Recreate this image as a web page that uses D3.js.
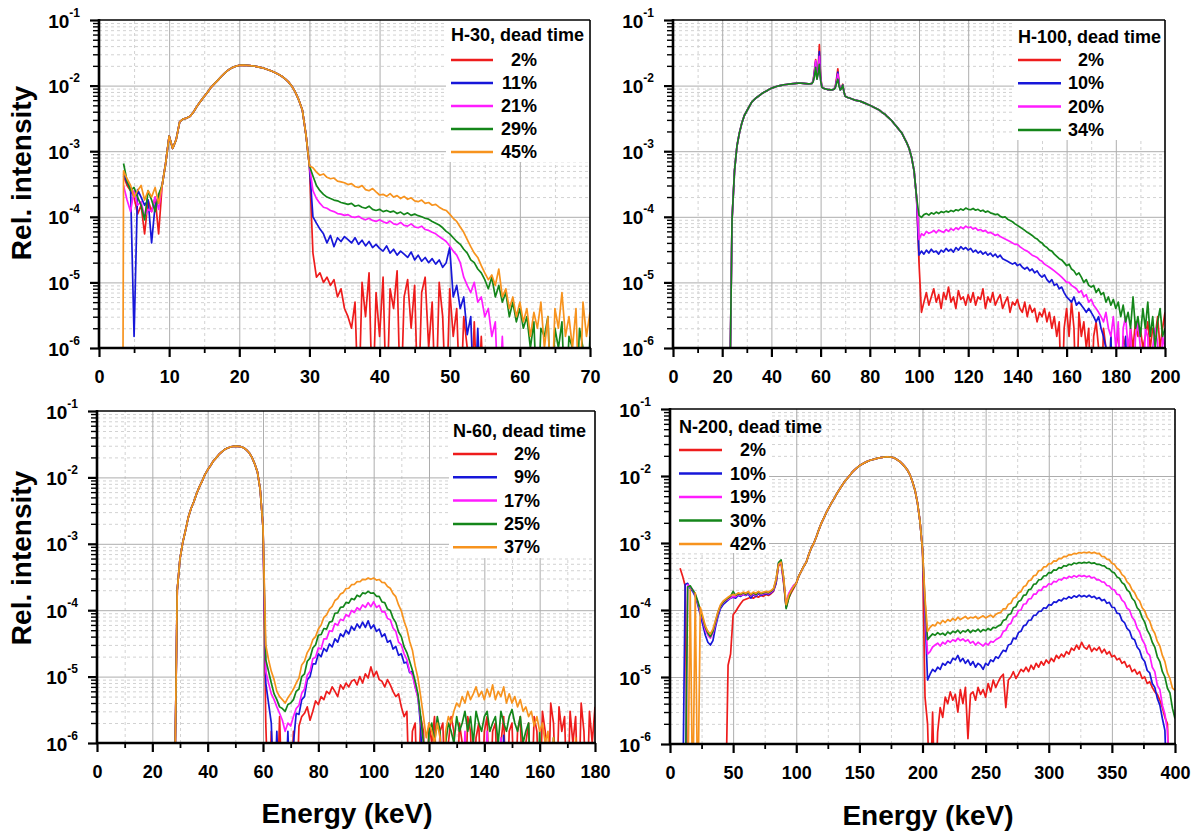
<!DOCTYPE html>
<html>
<head>
<meta charset="utf-8">
<script src="https://cdn.jsdelivr.net/npm/d3@7"></script>
<style>
  body { margin: 0; background: #fff; }
  svg { display: block; font-family: "Liberation Sans", Arial, sans-serif; font-weight: bold; }
</style>
</head>
<body>
<div id="chart"></div>
<script>
// relative intensities are written in units of 1e-6 (0 = below the axis, null = no data)

// ---------- H-30 ----------
const h30Labels = ["2%", "11%", "21%", "29%", "45%"]
const h30LowE = [3.4, 3.5, 4, 4.5, 5, 5.5, 6, 6.5, 7, 7.5, 8, 8.5]
const h30LowRed = [null, 420, 300, 250, 200, 110, 150, 55, 180, 120, 200, 55]
const h30LowBlue = [null, 450, 330, 280, 1.5, 260, 200, 150, 180, 40, 150, 200]
const h30LowMagenta = [null, 300, 180, 120, 250, 150, 170, 100, 130, 120, 200, 130]
const h30LowGreen = [null, 650, 350, 250, 280, 200, 150, 90, 250, 180, 120, 220]
const h30LowOrange = [0, 500, 380, 300, 200, 250, 300, 180, 250, 200, 280, 160]
// 9 .. 30 keV, step 0.5 (same for every dead time)
const h30Main = [
  300, 650, 1700, 1100, 1500, 2800, 3100, 3200, 3400, 4000,
  4900, 5800, 6800, 8000, 9500, 10800, 12200, 14000, 15800, 17500,
  18800, 19700, 20300, 20500, 20400, 20200, 19900, 19500, 19000, 18400,
  17600, 16800, 16000, 15000, 14000, 12800, 11400, 9800, 7900, 6000,
  4200, 1800, 600]
// 30.5 .. 70 keV, step 0.5
const h30TailRed = [
  28, 12, 14, 10, 12, 9, 11, 6, 8, 4,
  3, 2, 5, 0, 10, 3, 14, 0, 7, 1.5,
  12, 0, 8, 4, 15, 0, 6, 11, 2, 9,
  0, 7, 12, 1, 5, 0, 10, 3, 0, 8,
  1.5, 4, 0, 3, 1, 0, 2.5, 0, 1.5, 0,
  0, 1, 0, 0, 0, 0, 0, 0, 0, 0,
  0, 0, 0, 0, 0, 0, 0, 0, 0, 0,
  0, 0, 0, 0, 0, 0, 0, 0, 0, 0]
const h30TailBlue = [
  100, 80, 65, 55, 40, 52, 35, 48, 42, 50,
  45, 40, 48, 38, 44, 36, 42, 34, 38, 33,
  30, 36, 28, 32, 26, 30, 27, 24, 29, 22,
  26, 21, 24, 20, 23, 19, 22, 17, 20, 34,
  6, 9, 4, 6, 1.6, 3, 0, 2, 0, 0,
  1, 0, 0, 0, 0, 0, 0, 0, 0, 0,
  0, 0, 0, 0, 0, 0, 0, 0, 0, 0,
  0, 0, 0, 0, 0, 0, 0, 0, 0, 0]
const h30TailMagenta = [
  250, 190, 160, 140, 135, 125, 120, 112, 110, 105,
  108, 100, 98, 102, 94, 90, 95, 88, 85, 90,
  84, 80, 86, 78, 76, 82, 74, 72, 78, 70,
  68, 72, 64, 62, 58, 55, 50, 46, 42, 36,
  30, 26, 20, 12, 9, 7, 10, 5, 6, 3,
  4, 1.5, 2.5, 0, 1.5, 0, 1, 0, 0, 0,
  0, 0, 0, 0, 0, 0, 0, 0, 0, 0,
  0, 0, 0, 0, 0, 0, 0, 0, 0, 0]
const h30TailGreen = [
  420, 300, 250, 220, 200, 190, 180, 175, 165, 160,
  155, 160, 145, 150, 140, 135, 145, 130, 125, 130,
  120, 125, 118, 122, 112, 118, 108, 115, 105, 110,
  104, 100, 95, 92, 85, 80, 75, 68, 60, 55,
  48, 42, 38, 32, 28, 22, 20, 16, 14, 11,
  8, 12, 6, 9, 5, 7, 3, 5, 2.5, 4,
  2, 3, 1, 2.5, 0, 2, 1.5, 3, 0, 2,
  1, 2.5, 0, 1.5, 1, 0, 2, 1, 0, 1.5]
const h30TailOrange = [
  560, 480, 430, 450, 400, 380, 390, 350, 340, 330,
  310, 320, 290, 280, 300, 260, 250, 270, 240, 215,
  220, 205, 225, 200, 210, 190, 205, 185, 195, 175,
  170, 180, 160, 165, 150, 155, 140, 130, 125, 110,
  95, 85, 70, 58, 45, 35, 28, 24, 18, 14,
  11, 13, 9, 16, 6, 8, 4, 6, 3, 5,
  2.5, 4, 1.5, 3.5, 2, 5, 1, 3, 0, 4,
  2, 7, 1.5, 3, 1, 4, 0, 5, 1.5, 3.5]

// ---------- H-100 ----------
const h100Labels = ["2%", "10%", "20%", "34%"]
// 23 .. 56 keV, step 1
const h100Rise = [
  0, 90, 500, 1200, 1900, 2700, 3500, 4100, 4800, 5600,
  6100, 6600, 7000, 7500, 7900, 8300, 8700, 9100, 9400, 9700,
  9900, 10100, 10300, 10400, 10500, 10600, 10700, 10800, 10900, 10900,
  10800, 10700, 10600, 10700]
// 56.5 .. 70 keV, step 0.5 (fluorescence peaks)
const h100PeakRed = [
  10800, 12000, 17000, 25000, 13000, 19000, 42000, 14000, 9800, 9200,
  9000, 8900, 8800, 8700, 8700, 8600, 8600, 8700, 8900, 9800,
  13000, 18000, 11000, 8700, 9200, 10500, 8100, 6900]
const h100PeakBlue = [
  10800, 11800, 16000, 23000, 12800, 17000, 33000, 13000, 9700, 9200,
  9000, 8900, 8800, 8700, 8700, 8600, 8600, 8700, 8900, 9600,
  12000, 16000, 10500, 8600, 9100, 10300, 8000, 6900]
const h100PeakMagenta = [
  10800, 11700, 15500, 24000, 12600, 16000, 28000, 12500, 9600, 9200,
  9000, 8900, 8800, 8700, 8700, 8600, 8600, 8700, 8800, 9500,
  11500, 15000, 10200, 8600, 9000, 10200, 8000, 6900]
const h100PeakGreen = [
  10800, 11500, 14000, 19000, 12500, 15000, 21000, 12000, 9500, 9200,
  9000, 8900, 8800, 8700, 8700, 8600, 8600, 8700, 8800, 9300,
  11000, 12500, 9800, 8600, 9000, 10200, 8000, 6900]
// 71 .. 99 keV, step 1
const h100Fall = [
  6600, 6400, 6200, 6000, 5900, 5800, 5600, 5400, 5200, 5000,
  4800, 4600, 4400, 4200, 3900, 3700, 3400, 3150, 2900, 2600,
  2350, 2100, 1900, 1600, 1350, 1100, 800, 500, 200]
// 100 .. 200 keV, step 1
const h100TailRed = [
  20, 3.5, 5, 7, 4.5, 6, 8, 5, 6.5, 4,
  7, 5.5, 8.5, 5, 6, 4, 7.5, 5.5, 6, 4.5,
  6.5, 5, 7, 4.5, 6, 5.5, 8, 4, 6, 5,
  7, 4.5, 5.5, 6.5, 4, 5, 6, 3.5, 5, 4.5,
  5.5, 4, 3.5, 5, 3, 4.5, 3.5, 4, 2.5, 3.5,
  3, 4, 2.5, 3.5, 2, 3, 1.5, 2.5, 0, 2,
  4, 1.5, 5, 2, 0, 3.5, 1.5, 2.5, 1, 2,
  0, 1.5, 2.5, 1, 0, 2, 1, 0, 1.5, 0,
  1, 2, 0, 1.5, 1, 0, 2, 1, 2.5, 1.5,
  2, 1, 1.5, 2.5, 1, 2, 1.5, 3, 1, 2,
  3.5]
const h100TailBlue = [
  26, 30, 27, 31, 28, 32, 29, 30, 27, 31,
  29, 33, 30, 32, 29, 34, 31, 35, 32, 34,
  31, 33, 29, 31, 28, 30, 27, 29, 26, 28,
  25, 27, 24, 26, 23, 22, 21, 20, 19, 20,
  18, 19, 17, 16, 17, 15, 16, 14, 15, 13,
  12, 13, 11, 10, 11, 9, 9.5, 8, 8.5, 7,
  6, 5.5, 5, 6, 4.5, 5, 4.5, 4, 3.5, 4,
  3.5, 3, 2.5, 3, 2, 1.5, 1, 0, 1.5, 0,
  0, 1, 0, 0, 1.5, 0, 0, 1, 0, 0,
  0, 0, 0, 0, 0, 0, 0, 0, 0, 0,
  0]
const h100TailMagenta = [
  45, 55, 52, 60, 56, 58, 62, 57, 63, 60,
  58, 64, 60, 66, 62, 68, 64, 70, 66, 72,
  68, 70, 65, 68, 62, 64, 60, 62, 57, 58,
  55, 52, 54, 50, 48, 46, 44, 42, 40, 38,
  38, 35, 33, 31, 30, 28, 26, 25, 24, 22,
  21, 19, 18, 17, 16, 15, 14, 13, 12, 11,
  10, 10, 9, 8.5, 8, 7, 7.5, 6, 6.5, 5,
  5.5, 4.5, 4, 3.5, 3, 2.5, 3.5, 2, 1.5, 3,
  1, 2.5, 0, 2, 3, 1, 2, 0, 1.5, 2.5,
  1, 0, 2, 1.5, 0, 1, 2, 1.2, 0, 1.5,
  1]
const h100TailGreen = [
  105, 98, 108, 112, 106, 115, 110, 118, 112, 120,
  116, 122, 118, 125, 120, 128, 124, 132, 126, 136,
  130, 128, 134, 126, 130, 122, 126, 118, 122, 115,
  112, 108, 110, 102, 98, 100, 92, 88, 84, 78,
  74, 70, 66, 62, 58, 55, 52, 48, 46, 42,
  40, 36, 34, 31, 30, 27, 25, 23, 22, 20,
  18, 19, 16, 15, 13, 14, 12, 10, 11, 9,
  8.5, 9, 7, 8, 6.5, 7, 5, 6, 4.5, 5.5,
  4, 5, 3, 4.5, 2.5, 3.5, 2, 6, 2, 3,
  1.5, 4, 2, 5, 1.5, 3, 1, 2.5, 4, 1.5,
  2]

// ---------- N-60 ----------
const n60Labels = ["2%", "9%", "17%", "25%", "37%"]
// 28 .. 60 keV, step 1
const n60Main = [
  0, 200, 600, 1050, 1600, 2500, 3400, 4300, 5700, 7200,
  8800, 11000, 13000, 15000, 17500, 19500, 22000, 24000, 26000, 27500,
  28500, 29200, 29500, 29400, 29000, 28000, 26000, 23500, 20000, 16000,
  12000, 6500, 1800]
// 61 .. 180 keV, step 1
const n60TailRed = [
  2, 0, 1.5, 0, 0, 2.5, 0, 1, 0, 0,
  1.5, 0, 1.8, 2.5, 2.8, 3.5, 2.2, 3, 4.3, 3.8,
  5, 4.5, 6, 5.5, 7, 6, 5, 7.5, 6.5, 8,
  7, 8.5, 9, 7.5, 10, 8, 11, 9.5, 14, 10,
  12, 9, 8.5, 7, 9, 7.5, 6, 5, 5.5, 3.5,
  2.5, 3, 0, 1.5, 2, 0, 2.5, 1.5, 0, 2,
  1, 2.5, 0, 1.5, 2, 0, 1, 2.5, 1.5, 0,
  2, 1, 0, 2.5, 1.5, 0, 1.2, 2, 0, 1.5,
  2.5, 0, 1.5, 2, 0, 1, 2.5, 0, 1.5, 2,
  0, 1.5, 2.5, 0, 1, 2, 0, 2.5, 1.5, 0,
  3, 1.5, 0, 4, 2, 0, 3.5, 1.5, 2.5, 0,
  3, 1, 2.5, 0, 4, 1.5, 0, 3, 1, 3.5]
const n60TailBlue = [
  8, 4, 2, 0, 1.5, 0, 1, 0, 1.5, 0,
  1, 2.8, 2.7, 4.5, 5, 9, 10, 15.5, 15.5, 22,
  20, 26.5, 24, 31, 28, 37, 33, 44, 40, 50,
  44, 57, 50, 62, 54, 66, 55, 69, 53, 60,
  48, 52, 40, 44, 33, 35, 26, 28.5, 21, 22,
  16, 16.5, 11.5, 12, 7, 5, 1.8, 0, 0, 0,
  0, 0, 1, 0, 0, 0, 0, 0, 0, 0,
  0, 0, 0, 0, 0, 0, 0, 0, 0, 0,
  0, 0, 0, 0, 1.2, 0, 1.3, 0, 0, 0,
  0, 0, 0, 0, 0, 0, 0, 0, 0, 0,
  0, 0, 0, 0, 0, 0, 0, 0, 0, 0,
  0, 0, 0, 0, 0, 0, 0, 0, 0, 0]
const n60TailMagenta = [
  12, 8, 5.5, 4.5, 3.5, 2.8, 2.2, 1.5, 2, 1.8,
  2.5, 3.3, 3.7, 5.6, 6.5, 10.5, 12, 18.5, 19.5, 27,
  26, 37, 37, 49, 48, 63, 59, 73, 70, 86,
  80, 99, 92, 109, 101, 120, 110, 130, 113, 134,
  110, 118, 94, 95, 75, 72, 54, 48, 33, 30,
  22, 18, 12, 10.5, 7, 4.8, 2.3, 1, 0, 0,
  0, 1, 0, 1.5, 0, 0, 1, 0, 1.2, 0,
  1, 0, 1.5, 0, 0, 1.2, 0, 1, 0, 0,
  1.5, 0, 0, 1, 0, 1.2, 0, 0, 1, 0,
  0, 0, 0, 0, 0, 0, 0, 0, 0, 0,
  0, 0, 0, 0, 0, 0, 0, 0, 0, 0,
  0, 0, 0, 0, 0, 0, 0, 0, 0, 0]
const n60TailGreen = [
  18, 12, 8, 5.5, 4.5, 3.5, 3.3, 3, 3.8, 4,
  4.5, 6, 6.5, 10, 11, 17, 19, 27, 30, 42,
  43, 53, 52, 66, 68, 90, 91, 110, 112, 131,
  128, 150, 144, 168, 160, 182, 178, 192, 180, 182,
  162, 162, 133, 130, 104, 99, 76, 65, 47, 40,
  28, 23, 17, 12.5, 8.5, 5.5, 2.5, 1, 0, 1.5,
  2, 1, 2.5, 1.5, 0, 1, 2, 1.5, 1, 2.5,
  1.5, 2, 3, 1.5, 2.5, 1, 3, 2, 1.5, 2.5,
  3, 1.5, 2, 2.5, 1, 3, 2, 1.5, 2.5, 3.2,
  2, 1.5, 2.5, 1, 1.5, 2, 0, 1, 0, 1.5,
  0, 1, 0, 0, 1.2, 0, 0, 1, 0, 0,
  0, 1, 0, 0, 0, 1, 0, 0, 0, 0]
const n60TailOrange = [
  30, 18, 12, 9, 6, 5, 4.5, 4, 4.8, 5.5,
  6.5, 8, 9.5, 15, 17, 23, 27, 36, 40, 52,
  60, 78, 85, 104, 114, 140, 150, 176, 184, 212,
  214, 242, 244, 270, 268, 292, 288, 306, 292, 305,
  284, 290, 262, 260, 228, 214, 178, 160, 120, 98,
  68, 52, 34, 25, 14.5, 9.5, 5, 2.5, 1.2, 2,
  1.5, 1, 2, 1.2, 0, 1.5, 2.5, 2, 3, 4,
  3.5, 5, 4, 6, 4.5, 5.5, 7, 5, 6, 4.5,
  6.5, 5, 7.5, 4.5, 6, 5, 7, 4, 5.5, 4,
  5, 3.5, 4.5, 3, 3.5, 2.5, 3, 1.8, 2.5, 1.5,
  2, 1, 1.5, 0, 1.2, 0, 1, 0, 0, 1,
  0, 0, 1.2, 0, 0, 0, 1, 0, 0, 0]

// ---------- N-200 ----------
const n200Labels = ["2%", "10%", "19%", "30%", "42%"]
// 8 .. 98 keV, step 2
const n200LowRed = [
  420, 320, 230, 0, 0, 0, 0, 0, 0, 0,
  0, 0, 0, 0, 0, 0, 0, 0, 0, 15,
  22, 85, 95, 110, 125, 140, 145, 150, 155, 150,
  160, 155, 165, 160, 170, 165, 175, 190, 250, 460,
  500, 250, 110, 150, 180, 210]
const n200LowBlue = [
  null, 0, 240, 250, 210, 190, 160, 120, 85, 60,
  42, 33, 30, 35, 55, 80, 105, 120, 130, 140,
  150, 155, 150, 165, 160, 170, 165, 175, 150, 170,
  160, 175, 165, 170, 175, 170, 180, 195, 250, 500,
  540, 270, 110, 170, 200, 230]
const n200LowMagenta = [
  null, null, 0, 240, 220, 200, 170, 130, 95, 70,
  50, 42, 38, 45, 62, 88, 112, 128, 138, 145,
  152, 160, 158, 170, 165, 172, 168, 180, 162, 175,
  165, 180, 170, 175, 180, 175, 185, 200, 270, 490,
  530, 280, 120, 175, 205, 235]
const n200LowGreen = [
  null, null, 0, 220, 230, 200, 175, 135, 100, 75,
  55, 45, 40, 48, 66, 92, 115, 130, 140, 150,
  160, 190, 165, 175, 170, 180, 172, 185, 168, 180,
  170, 185, 175, 180, 185, 180, 190, 205, 280, 510,
  560, 300, 105, 150, 190, 220]
const n200LowOrange = [
  null, null, null, 0, 200, 0, 180, 0, 110, 80,
  58, 48, 44, 52, 70, 95, 120, 135, 145, 155,
  165, 170, 168, 180, 175, 185, 178, 190, 172, 185,
  178, 190, 180, 185, 190, 185, 195, 210, 290, 480,
  520, 310, 120, 165, 195, 225]
// 100 .. 200 keV, step 2
const n200Main = [
  250, 320, 380, 450, 520, 680, 850, 1000, 1250, 1600,
  2000, 2400, 2900, 3400, 4000, 4600, 5400, 6200, 7100, 8100,
  9000, 10000, 11200, 12200, 13200, 14200, 15000, 15700, 16400, 17000,
  17500, 17900, 18300, 18700, 19000, 19200, 19300, 19200, 19000, 18400,
  17500, 16500, 15200, 13800, 12300, 10500, 8300, 6200, 4000, 2100,
  800]
// 202 .. 400 keV, step 2
const n200TailRed = [
  5, 2, 0, 3, 0, 1.5, 3.5, 2.5, 5, 4,
  6, 4.5, 5.5, 3, 6.5, 4, 7, 1.2, 5.5, 6,
  4.5, 7, 5.5, 6.5, 5, 8, 6, 9, 7, 8.5,
  10, 11, 3.5, 9, 10, 12, 9.5, 11, 13, 12,
  14, 12, 15, 13, 16, 14, 17, 15, 18, 16,
  19, 17, 21, 19, 22, 20, 24, 22, 27, 25,
  30, 26, 33, 28, 26, 30, 24, 27, 25, 28,
  23, 26, 22, 24, 20, 21, 18, 19, 16, 17,
  14, 15, 12, 13, 11, 12, 9.5, 10, 8, 8.5,
  7, 6, 5.5, 4.5, 3.5, 2.5, 2, 0, 0, 0]
const n200TailBlue = [
  90, 9, 11, 13, 12, 14, 13, 16, 15, 17,
  16, 19, 18, 21, 17, 19, 16, 18, 15, 17,
  14, 16, 15, 13, 16, 15, 18, 17, 20, 19,
  22, 25, 24, 30, 31, 38, 37, 46, 48, 58,
  60, 70, 71, 83, 84, 95, 96, 108, 106, 120,
  118, 132, 130, 142, 137, 150, 146, 158, 150, 163,
  155, 167, 158, 164, 156, 166, 154, 160, 147, 153,
  138, 144, 126, 130, 110, 109, 90, 88, 70, 65,
  53, 49, 38, 36, 28, 25, 19, 17, 12.5, 11.5,
  8, 7, 4.8, 3.8, 2.4, 1.6, 0, 0, 0, 0]
const n200TailMagenta = [
  110, 22, 24, 28, 30, 32, 29, 33, 31, 35,
  33, 36, 34, 38, 35, 37, 34, 36, 32, 34,
  30, 33, 31, 29, 32, 30, 34, 33, 36, 38,
  40, 48, 50, 60, 63, 78, 81, 98, 100, 122,
  124, 146, 148, 172, 173, 198, 196, 224, 222, 246,
  240, 268, 262, 288, 280, 305, 295, 318, 305, 326,
  310, 330, 316, 326, 312, 322, 302, 308, 282, 282,
  262, 260, 232, 228, 204, 200, 172, 168, 140, 130,
  106, 100, 78, 70, 54, 47, 36, 31, 23, 21,
  14, 12, 7.5, 6.5, 3.8, 2.8, 1.6, 0, 0, 0]
const n200TailGreen = [
  130, 36, 40, 44, 42, 46, 43, 45, 42, 47,
  44, 48, 46, 50, 45, 49, 47, 51, 46, 50,
  48, 52, 47, 51, 49, 53, 50, 55, 54, 58,
  60, 70, 72, 85, 88, 108, 112, 134, 140, 165,
  168, 200, 206, 242, 246, 282, 285, 322, 325, 362,
  358, 398, 392, 428, 422, 458, 452, 482, 472, 502,
  490, 512, 498, 514, 502, 518, 496, 506, 480, 482,
  460, 455, 420, 412, 372, 358, 312, 298, 256, 240,
  200, 185, 150, 136, 108, 98, 77, 66, 50, 43,
  33, 28, 20, 17, 12, 10, 6.8, 5.8, 3.4, 2.4]
const n200TailOrange = [
  150, 48, 55, 60, 58, 66, 62, 70, 65, 72,
  68, 75, 70, 78, 72, 76, 80, 74, 78, 76,
  80, 74, 78, 82, 76, 80, 84, 78, 86, 90,
  92, 104, 104, 122, 126, 150, 155, 180, 188, 222,
  232, 272, 280, 325, 332, 385, 390, 440, 442, 492,
  490, 542, 538, 588, 585, 632, 625, 672, 665, 700,
  688, 722, 708, 728, 712, 732, 705, 725, 695, 700,
  630, 625, 575, 560, 500, 480, 420, 395, 338, 315,
  262, 242, 200, 182, 150, 136, 108, 97, 77, 68,
  52, 45, 34, 29, 21, 17, 11.5, 9.5, 6.8, 6.3]

const colors = ["#ee1c1c", "#1717d9", "#ff1cff", "#14861a", "#f7931e"]


// turn one energy run into points
function seg(e0, step, vals) {
  return vals.map((v, i) => v == null ? null : {e: e0 + i * step, v: v})
}
function segAt(es, vals) {
  return vals.map((v, i) => v == null ? null : {e: es[i], v: v})
}


const panels = [
  {
    box: {l: 99, r: 590, t: 20, b: 348}, xMax: 70, xStep: 10,
    title: "H-30, dead time", labels: h30Labels,
    legend: {x: 451, ty: 41, row0: 60, gap: 23, lineW: 42, labelR: 537, bg: [446, 20, 144, 142]},
    series: [
      [...segAt(h30LowE, h30LowRed), ...seg(9, 0.5, h30Main), ...seg(30.5, 0.5, h30TailRed)],
      [...segAt(h30LowE, h30LowBlue), ...seg(9, 0.5, h30Main), ...seg(30.5, 0.5, h30TailBlue)],
      [...segAt(h30LowE, h30LowMagenta), ...seg(9, 0.5, h30Main), ...seg(30.5, 0.5, h30TailMagenta)],
      [...segAt(h30LowE, h30LowGreen), ...seg(9, 0.5, h30Main), ...seg(30.5, 0.5, h30TailGreen)],
      [...segAt(h30LowE, h30LowOrange), ...seg(9, 0.5, h30Main), ...seg(30.5, 0.5, h30TailOrange)]
    ]
  },
  {
    box: {l: 673, r: 1165, t: 20, b: 348}, xMax: 200, xStep: 20,
    title: "H-100, dead time", labels: h100Labels,
    legend: {x: 1018, ty: 43, row0: 60, gap: 23.3, lineW: 43, labelR: 1104, bg: [1014, 20, 151, 120]},
    series: [
      [...seg(23, 1, h100Rise), ...seg(56.5, 0.5, h100PeakRed), ...seg(71, 1, h100Fall), ...seg(100, 1, h100TailRed)],
      [...seg(23, 1, h100Rise), ...seg(56.5, 0.5, h100PeakBlue), ...seg(71, 1, h100Fall), ...seg(100, 1, h100TailBlue)],
      [...seg(23, 1, h100Rise), ...seg(56.5, 0.5, h100PeakMagenta), ...seg(71, 1, h100Fall), ...seg(100, 1, h100TailMagenta)],
      [...seg(23, 1, h100Rise), ...seg(56.5, 0.5, h100PeakGreen), ...seg(71, 1, h100Fall), ...seg(100, 1, h100TailGreen)]
    ]
  },
  {
    box: {l: 97, r: 595, t: 411, b: 743}, xMax: 180, xStep: 20,
    title: "N-60, dead time", labels: n60Labels,
    legend: {x: 453, ty: 437, row0: 454, gap: 23.3, lineW: 44, labelR: 540, bg: [449, 411, 146, 147]},
    series: [
      [...seg(28, 1, n60Main), ...seg(61, 1, n60TailRed)],
      [...seg(28, 1, n60Main), ...seg(61, 1, n60TailBlue)],
      [...seg(28, 1, n60Main), ...seg(61, 1, n60TailMagenta)],
      [...seg(28, 1, n60Main), ...seg(61, 1, n60TailGreen)],
      [...seg(28, 1, n60Main), ...seg(61, 1, n60TailOrange)]
    ]
  },
  {
    box: {l: 670, r: 1175, t: 409, b: 744}, xMax: 400, xStep: 50,
    title: "N-200, dead time", labels: n200Labels,
    legend: {x: 679, ty: 433, row0: 450, gap: 23.5, lineW: 43, labelR: 766, bg: [671, 409, 98, 144]},
    series: [
      [...seg(8, 2, n200LowRed), ...seg(100, 2, n200Main), ...seg(202, 2, n200TailRed)],
      [...seg(8, 2, n200LowBlue), ...seg(100, 2, n200Main), ...seg(202, 2, n200TailBlue)],
      [...seg(8, 2, n200LowMagenta), ...seg(100, 2, n200Main), ...seg(202, 2, n200TailMagenta)],
      [...seg(8, 2, n200LowGreen), ...seg(100, 2, n200Main), ...seg(202, 2, n200TailGreen)],
      [...seg(8, 2, n200LowOrange), ...seg(100, 2, n200Main), ...seg(202, 2, n200TailOrange)]
    ]
  }
]


const svg = d3.select("#chart")
  .append("svg")
    .attr("width", 1200)
    .attr("height", 834)

const decades = [1e-6, 1e-5, 1e-4, 1e-3, 1e-2, 1e-1]
const yMinor = []
decades.slice(0, 5).forEach(d => { for (let k = 2; k <= 9; k++) yMinor.push(k * d) })


panels.forEach((p, pi) => {
  const {l, r, t, b} = p.box
  const xScale = d3.scaleLinear().domain([0, p.xMax]).range([l, r])
  const yScale = d3.scaleLog().domain([1e-6, 1e-1]).range([b, t])

  const xMajor = d3.range(0, p.xMax + 0.001, p.xStep)
  const xMinor = d3.range(p.xStep / 2, p.xMax, p.xStep)

  const bounds = svg.append("g")

  // grid: dashed minor, solid major
  function grid (axis, tr, dashed) {
    const gg = bounds.append("g").attr("transform", tr).call(axis)
    gg.select(".domain").remove()
    gg.selectAll("line")
      .attr("stroke", dashed ? "#d2d2d2" : "#adadad")
      .attr("stroke-width", 1)
      .attr("stroke-dasharray", dashed ? "3,3" : null)
  }
  grid(d3.axisBottom(xScale).tickValues(xMinor).tickSize(-(b - t)).tickFormat(""), `translate(0,${b})`, true)
  grid(d3.axisLeft(yScale).tickValues(yMinor).tickSize(-(r - l)).tickFormat(""), `translate(${l},0)`, true)
  grid(d3.axisBottom(xScale).tickValues(xMajor.slice(1, -1)).tickSize(-(b - t)).tickFormat(""), `translate(0,${b})`, false)
  grid(d3.axisLeft(yScale).tickValues(decades.slice(1, -1)).tickSize(-(r - l)).tickFormat(""), `translate(${l},0)`, false)

  // legend background hides the grid
  bounds.append("rect")
    .attr("x", p.legend.bg[0]).attr("y", p.legend.bg[1])
    .attr("width", p.legend.bg[2]).attr("height", p.legend.bg[3])
    .attr("fill", "#fff")

  // curves
  const clipId = "clip" + pi
  svg.append("clipPath").attr("id", clipId)
    .append("rect").attr("x", l).attr("y", t).attr("width", r - l).attr("height", b - t)

  const line = d3.line()
    .defined(d => d != null)
    .x(d => xScale(d.e))
    .y(d => yScale(Math.max(d.v * 1e-6, 1e-7)))

  bounds.append("g").attr("clip-path", `url(#${clipId})`)
    .selectAll("path")
    .data(p.series)
    .enter()
    .append("path")
      .attr("d", line)
      .attr("fill", "none")
      .attr("stroke", (d, i) => colors[i])
      .attr("stroke-width", 1.7)
      .attr("stroke-linejoin", "round")

  // ticks
  const xAxis = bounds.append("g").attr("transform", `translate(0,${b})`)
    .call(d3.axisBottom(xScale).tickValues(xMajor).tickSize(9).tickPadding(13).tickFormat(d3.format("d")))
  xAxis.select(".domain").remove()
  xAxis.selectAll("line").attr("stroke-width", 2.2)
  xAxis.selectAll("text")
    .attr("font-size", 18).attr("font-weight", "bold")
    .attr("font-family", "Liberation Sans, Arial, sans-serif").attr("fill", "#000")

  const xAxisMinor = bounds.append("g").attr("transform", `translate(0,${b})`)
    .call(d3.axisBottom(xScale).tickValues(xMinor).tickSize(5).tickFormat(""))
  xAxisMinor.select(".domain").remove()
  xAxisMinor.selectAll("line").attr("stroke-width", 1.8)

  const yAxis = bounds.append("g").attr("transform", `translate(${l},0)`)
    .call(d3.axisLeft(yScale).tickValues(decades).tickSize(9).tickPadding(10))
  yAxis.select(".domain").remove()
  yAxis.selectAll("line").attr("stroke-width", 2.2)
  yAxis.selectAll(".tick text").each(function (d) {
    const txt = d3.select(this)
    txt.text("10")
      .attr("dy", null).attr("y", 7)
      .attr("font-size", 19).attr("font-weight", "bold")
      .attr("font-family", "Liberation Sans, Arial, sans-serif").attr("fill", "#000")
    txt.append("tspan")
      .attr("dy", -11)
      .attr("font-size", 12)
      .text(Math.round(Math.log10(d)))
  })

  const yAxisMinor = bounds.append("g").attr("transform", `translate(${l},0)`)
    .call(d3.axisLeft(yScale).tickValues(yMinor).tickSize(6).tickFormat(""))
  yAxisMinor.select(".domain").remove()
  yAxisMinor.selectAll("line").attr("stroke-width", 1.4)

  // frame
  bounds.append("line").attr("x1", l).attr("x2", r).attr("y1", t).attr("y2", t).attr("stroke", "#000").attr("stroke-width", 1.6)
  bounds.append("line").attr("x1", r).attr("x2", r).attr("y1", t).attr("y2", b).attr("stroke", "#000").attr("stroke-width", 1.6)
  bounds.append("line").attr("x1", l).attr("x2", l).attr("y1", t - 1).attr("y2", b + 1).attr("stroke", "#000").attr("stroke-width", 2.6)
  bounds.append("line").attr("x1", l - 1).attr("x2", r + 1).attr("y1", b).attr("y2", b).attr("stroke", "#000").attr("stroke-width", 2.6)

  // legend
  const lg = p.legend
  bounds.append("text")
    .attr("x", lg.x).attr("y", lg.ty)
    .attr("font-size", 18)
    .text(p.title)
  p.labels.forEach((lab, i) => {
    const yy = lg.row0 + i * lg.gap
    bounds.append("line")
      .attr("x1", lg.x).attr("x2", lg.x + lg.lineW)
      .attr("y1", yy).attr("y2", yy)
      .attr("stroke", colors[i]).attr("stroke-width", 2.5)
    bounds.append("text")
      .attr("x", lg.labelR).attr("y", yy + 6)
      .attr("text-anchor", "end")
      .attr("font-size", 18)
      .text(lab)
  })
})

// axis titles
svg.append("text")
  .attr("transform", "translate(31,173) rotate(-90)")
  .attr("text-anchor", "middle").attr("font-size", 28)
  .text("Rel. intensity")
svg.append("text")
  .attr("transform", "translate(31,558) rotate(-90)")
  .attr("text-anchor", "middle").attr("font-size", 28)
  .text("Rel. intensity")
svg.append("text")
  .attr("x", 347).attr("y", 823)
  .attr("text-anchor", "middle").attr("font-size", 28)
  .text("Energy (keV)")
svg.append("text")
  .attr("x", 928).attr("y", 825)
  .attr("text-anchor", "middle").attr("font-size", 28)
  .text("Energy (keV)")
</script>
</body>
</html>
